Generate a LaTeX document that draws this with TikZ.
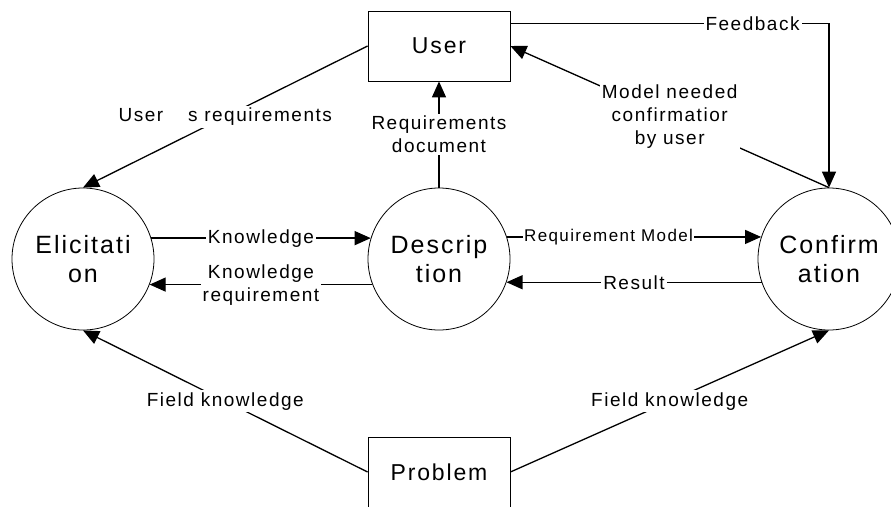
\documentclass[tikz,border=0pt]{standalone}
\usepackage{fontspec}
\setmainfont{Liberation Sans}[LetterSpace=8]
\usetikzlibrary{arrows.meta,shapes}
\pgfdeclarelayer{edgelayer}
\pgfdeclarelayer{nodelayer}
\pgfsetlayers{edgelayer,nodelayer,main}
\tikzset{font=\fontsize{19}{23}\selectfont}
\tikzstyle{none}=[inner sep=0pt]
\tikzstyle{process}=[circle,draw,line width=0.8pt,minimum size=142pt,inner sep=0pt,align=center,font=\fontsize{25}{29}\selectfont]
\tikzstyle{entity}=[rectangle,draw,line width=0.8pt,minimum width=142pt,minimum height=70pt,inner sep=0pt,font=\fontsize{23}{27}\selectfont]
\tikzstyle{flow}=[line width=1.3pt,-{Triangle[length=16pt,width=14pt]}]
\tikzstyle{lbl}=[fill=white,inner sep=2pt,align=center,font=\fontsize{19}{23}\selectfont]

\begin{document}
\begin{tikzpicture}[x=10pt,y=10pt]
	\useasboundingbox (0,0) rectangle (89.1,-50.6);
	\begin{pgfonlayer}{nodelayer}
		\node [style=entity] (0) at (43.9, -4.6) {User};
		\node [style=process] (1) at (8.3, -25.9) {Elicitati\\on};
		\node [style=process] (2) at (43.9, -25.9) {Descrip\\tion};
		\node [style=process] (3) at (82.9, -25.9) {Confirm\\ation};
		\node [style=entity] (4) at (43.9, -47.2) {Problem};
	\end{pgfonlayer}
	\begin{pgfonlayer}{edgelayer}
		\draw [style=flow] (0.west) to node[style=lbl] {User\hspace{1.3em}s requirements} (1.north);
		\draw [style=flow] (2.north) to node[style=lbl] {Requirements\\document} (0.south);
		\draw [style=flow] ([yshift=-13pt]0.north east) -| node[style=lbl,pos=0.38] {Feedback} (3.north);
		\draw [style=flow] (3.north) to node[style=lbl] {Model needed\\confirmatior\\by user} (0.east);
		\draw [style=flow] (1.17) to node[style=lbl] {Knowledge} (2.163);
		\draw [style=flow] (2.201) to node[style=lbl] {Knowledge\\requirement} (1.339);
		\draw [style=flow] (2.18) to node[style=lbl,pos=0.4,inner sep=1pt,font=\fontsize{17}{20}\selectfont] {Requirement Model} (3.162);
		\draw [style=flow] (3.199) to node[style=lbl] {Result} (2.341);
		\draw [style=flow] (4.west) to node[style=lbl] {Field knowledge} (1.south);
		\draw [style=flow] (4.east) to node[style=lbl] {Field knowledge} (3.south);
	\end{pgfonlayer}
\end{tikzpicture}
\end{document}
